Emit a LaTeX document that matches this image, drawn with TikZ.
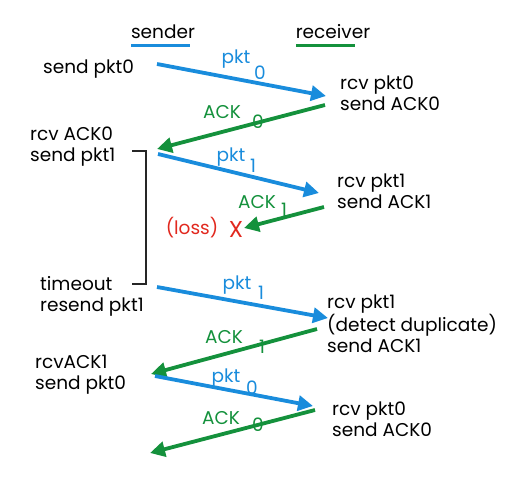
\documentclass[tikz,border=0pt]{standalone}
\usepackage{fontspec}
\setmainfont{Poppins}
\usetikzlibrary{arrows.meta}

\definecolor{pktblue}{RGB}{25,140,220}
\definecolor{ackgreen}{RGB}{20,145,60}
\definecolor{lossred}{RGB}{225,40,30}

\tikzset{
	event/.style={align=left, anchor=west, inner sep=0pt, font=\fontsize{18.5}{21}\selectfont},
	pktline/.style={line width=3.8pt, pktblue, -{Triangle[length=15pt,width=15pt]}},
	ackline/.style={line width=3.8pt, ackgreen, -{Triangle[length=15pt,width=15pt]}},
	pktlabel/.style={pktblue, inner sep=0pt, font=\fontsize{18.5}{21}\selectfont},
	acklabel/.style={ackgreen, inner sep=0pt, font=\fontsize{18.5}{21}\selectfont}
}

\begin{document}
\begin{tikzpicture}[x=1pt, y=-1pt]
		\useasboundingbox (0,0) rectangle (508,476);

		% Draw the headings with their lines
		\node[event, anchor=center] (sender) at (163,32) {sender};
		\node[event, anchor=center] (receiver) at (333,32) {receiver};
		\draw[pktblue, line width=3pt] (131,46) -- (190,46);
		\draw[ackgreen, line width=3pt] (296,46) -- (355,46);

		% Sender events
		\node[event] (s1) at (43,69) {send pkt0};
		\node[event] (s2) at (30,147) {rcv ACK0\\send pkt1};
		\node[event] (s3) at (40,296) {timeout\\resend pkt1};
		\node[event] (s4) at (35,375) {rcvACK1\\send pkt0};

		% Receiver events
		\node[event] (r1) at (340,93) {rcv pkt0\\send ACK0};
		\node[event] (r2) at (337,191) {rcv pkt1\\send ACK1};
		\node[event] (r3) at (327,324) {rcv pkt1\\(detect duplicate)\\send ACK1};
		\node[event] (r4) at (332,419) {rcv pkt0\\send ACK0};

		% Arrow end points
		\coordinate (p1a) at (157,64);  \coordinate (p1b) at (326,96);
		\coordinate (a1a) at (325,105); \coordinate (a1b) at (157,149);
		\coordinate (p2a) at (158,154); \coordinate (p2b) at (319,193);
		\coordinate (a2a) at (324,207); \coordinate (a2b) at (244,228);
		\coordinate (p3a) at (157,287); \coordinate (p3b) at (328,318);
		\coordinate (a3a) at (317,329); \coordinate (a3b) at (151,374);
		\coordinate (p4a) at (155,376); \coordinate (p4b) at (313,406);
		\coordinate (a4a) at (315,410); \coordinate (a4b) at (150,453);

		% Draw the packets and the ACKs
		\draw[pktline] (p1a) -- (p1b);
		\draw[ackline] (a1a) -- (a1b);
		\draw[pktline] (p2a) -- (p2b);
		\draw[ackline] (a2a) -- (a2b);
		\draw[pktline] (p3a) -- (p3b);
		\draw[ackline] (a3a) -- (a3b);
		\draw[pktline] (p4a) -- (p4b);
		\draw[ackline] (a4a) -- (a4b);

		% Labels on the arrows
		\node[pktlabel] (l1) at (236,59) {pkt};  \node[pktlabel] (n1) at (260,73) {0};
		\node[acklabel] (l2) at (222,112) {ACK}; \node[acklabel] (n2) at (258,122) {0};
		\node[pktlabel] (l3) at (231,157) {pkt}; \node[pktlabel] (n3) at (253,166) {1};
		\node[acklabel] (l4) at (257,202) {ACK}; \node[acklabel] (n4) at (284,210) {1};
		\node[pktlabel] (l5) at (237,285) {pkt}; \node[pktlabel] (n5) at (261,293) {1};
		\node[acklabel] (l6) at (224,337) {ACK}; \node[acklabel] (n6) at (262,347) {1};
		\node[pktlabel] (l7) at (226,378) {pkt}; \node[pktlabel] (n7) at (252,388) {0};
		\node[acklabel] (l8) at (221,418) {ACK}; \node[acklabel] (n8) at (258,425) {0};

		% The lost ACK
		\node[event, anchor=center, lossred] (loss) at (192,228) {(loss)};
		\node[event, anchor=center, lossred, font=\fontsize{23}{23}\selectfont] (lossx) at (236,229) {X};

		% Timer bracket
		\coordinate (t1) at (132,151);
		\coordinate (t2) at (132,284);
		\draw[line width=2pt, black!85] (t1) -- ++(14,0) |- (t2);
	\end{tikzpicture}
\end{document}
